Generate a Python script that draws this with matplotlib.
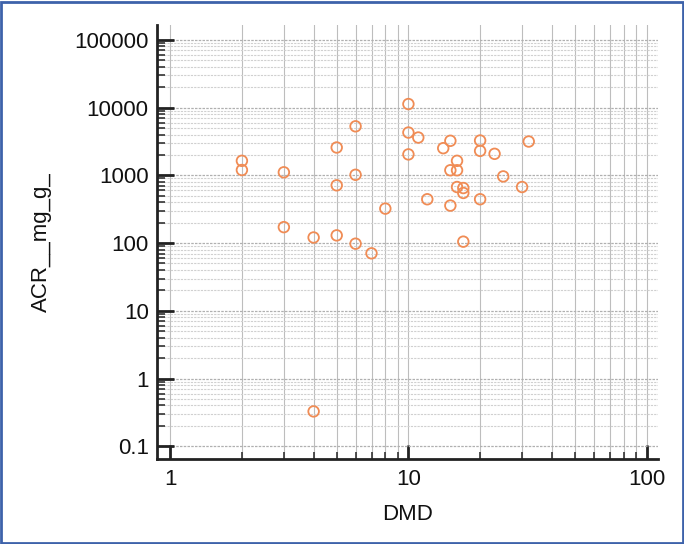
import matplotlib.pyplot as plt
from matplotlib.ticker import FixedLocator, NullFormatter
from matplotlib.patches import Rectangle
import numpy as np

plt.rcParams['font.family'] = ['Liberation Sans', 'DejaVu Sans']

# DMD vs ACR (mg/g)
dmd = [10, 6, 10, 11, 15, 20, 32, 5, 14, 20, 23, 10, 2, 16, 2, 15, 16, 3,
       6, 25, 5, 16, 30, 17, 17, 12, 20, 15, 8, 3, 4, 5, 6, 17, 7, 4]
acr = [11300, 5300, 4290, 3620, 3240, 3270, 3160, 2580, 2520, 2300, 2080,
       2040, 1640, 1640, 1200, 1190, 1190, 1110, 1020, 965, 713, 673, 673,
       650, 550, 444, 444, 358, 323, 172, 121, 130, 98, 105, 70.6, 0.327]

x_ticks = [1, 10, 100]
y_ticks = [0.1, 1, 10, 100, 1000, 10000, 100000]
y_labels = ['0.1', '1', '10', '100', '1000', '10000', '100000']

# minor ticks 2..9 inside each decade only
x_minor = [m * d for d in x_ticks[:-1] for m in range(2, 10)]
y_minor = [m * d for d in y_ticks[:-1] for m in range(2, 10)]

fig = plt.figure(figsize=(6.84, 5.44), dpi=100)
ax = fig.add_axes([0.2295, 0.156, 0.733, 0.798])

ax.scatter(dmd, acr, s=58, facecolors='none', edgecolors='#f08c55',
           linewidths=1.3, zorder=3)

ax.set_xscale('log')
ax.set_yscale('log')
ax.set_xlim(0.88, 112)
ax.set_ylim(10**-1.19, 10**5.22)

ax.xaxis.set_major_locator(FixedLocator(x_ticks))
ax.yaxis.set_major_locator(FixedLocator(y_ticks))
ax.set_xticklabels([str(t) for t in x_ticks])
ax.set_yticklabels(y_labels)
ax.xaxis.set_minor_locator(FixedLocator(x_minor))
ax.yaxis.set_minor_locator(FixedLocator(y_minor))
ax.xaxis.set_minor_formatter(NullFormatter())
ax.yaxis.set_minor_formatter(NullFormatter())

ax.grid(True, axis='x', which='both', color='#bdbdbd', linewidth=0.8)
ax.grid(True, axis='y', which='minor', color='#d0d0d0', linewidth=0.8,
        linestyle=(0, (2, 1)))
ax.grid(True, axis='y', which='major', color='#b0b0b0', linewidth=0.9,
        linestyle=(0, (2, 1)))
ax.set_axisbelow(True)

for s in ['top', 'right']:
    ax.spines[s].set_visible(False)
for s in ['left', 'bottom']:
    ax.spines[s].set_linewidth(2)
    ax.spines[s].set_color('#222222')

ax.tick_params(which='major', direction='in', length=12, width=2,
               color='#222222', labelsize=16, pad=6, labelcolor='#111111')
ax.tick_params(which='minor', direction='in', length=6, width=1.2,
               color='#333333')
ax.tick_params(axis='x', which='major', length=10, pad=7)
ax.tick_params(axis='x', which='minor', length=5)

ax.set_xlabel('DMD', fontsize=16, labelpad=10, color='#111111')
ax.set_ylabel('ACR__mg_g_', fontsize=16, labelpad=16, color='#111111')

# blue frame around the whole picture
fig.patches.append(Rectangle((0.002, 0.002), 0.996, 0.995,
                             transform=fig.transFigure, fill=False,
                             edgecolor='#3d62aa', linewidth=2))

fig.savefig('out.png', dpi=100)
